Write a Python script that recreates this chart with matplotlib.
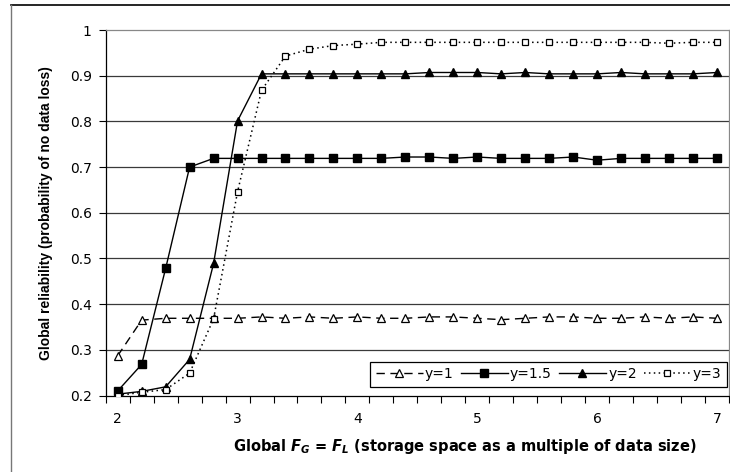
import matplotlib
matplotlib.use("Agg")
import matplotlib.pyplot as plt
from matplotlib.lines import Line2D
import numpy as np

plt.rcParams['font.family'] = ['DejaVu Sans']
plt.rcParams['mathtext.fontset'] = 'custom'
plt.rcParams['mathtext.it'] = 'DejaVu Sans:italic:bold'
plt.rcParams['mathtext.rm'] = 'DejaVu Sans:bold'

# data
fg = [2.0, 2.2, 2.4, 2.6, 2.8, 3.0, 3.2, 3.4, 3.6, 3.8, 4.0, 4.2, 4.4, 4.6, 4.8,
      5.0, 5.2, 5.4, 5.6, 5.8, 6.0, 6.2, 6.4, 6.6, 6.8, 7.0]
y_1 = [0.287, 0.365, 0.369, 0.369, 0.369, 0.369, 0.372, 0.369, 0.372, 0.369, 0.372,
       0.369, 0.369, 0.372, 0.372, 0.369, 0.366, 0.369, 0.372, 0.372, 0.369, 0.369,
       0.372, 0.369, 0.372, 0.369]
y_15 = [0.210, 0.268, 0.478, 0.700, 0.719, 0.719, 0.719, 0.719, 0.719, 0.719, 0.719,
        0.719, 0.722, 0.722, 0.719, 0.722, 0.719, 0.719, 0.719, 0.722, 0.715, 0.719,
        0.719, 0.719, 0.719, 0.719]
y_2 = [0.203, 0.209, 0.219, 0.279, 0.489, 0.801, 0.904, 0.904, 0.904, 0.904, 0.904,
       0.904, 0.904, 0.907, 0.907, 0.907, 0.904, 0.907, 0.904, 0.904, 0.904, 0.907,
       0.904, 0.904, 0.904, 0.907]
y_3 = [0.200, 0.207, 0.213, 0.249, 0.368, 0.646, 0.868, 0.943, 0.958, 0.966, 0.969,
       0.973, 0.973, 0.973, 0.973, 0.973, 0.973, 0.973, 0.973, 0.973, 0.973, 0.973,
       0.973, 0.971, 0.973, 0.973]
labels = ['y=1', 'y=1.5', 'y=2', 'y=3']
xtick_labels = [2, 3, 4, 5, 6, 7]
ytick_vals = [0.2, 0.3, 0.4, 0.5, 0.6, 0.7, 0.8, 0.9, 1.0]

fig = plt.figure(figsize=(7.3, 4.72), dpi=100)
ax = fig.add_axes([105.7/730, 1 - 395.5/472, (729 - 105.7)/730, (395.5 - 30)/472])

for v in ytick_vals[1:-1]:
    ax.axhline(v, color='#3a3a3a', lw=0.9, zorder=1)

lw = 1.0
ax.plot(fg, y_1, color='black', lw=lw, ls=(0, (6, 4)), marker='^', ms=6,
        mfc='white', mec='black', mew=0.9, label=labels[0], zorder=3)
ax.plot(fg, y_15, color='black', lw=lw, ls='-', marker='s', ms=5.5,
        mfc='black', mec='black', label=labels[1], zorder=3)
ax.plot(fg, y_2, color='black', lw=lw, ls='-', marker='^', ms=6,
        mfc='black', mec='black', label=labels[2], zorder=3)
ax.plot(fg, y_3, color='black', lw=1.1, ls=(0, (1, 2.2)), marker='s', ms=5,
        mfc='white', mec='black', mew=0.9, label=labels[3], zorder=4)

ax.set_xlim(1.9, 7.1)
ax.set_ylim(0.2, 1.0)

# category-style x axis: tick marks between categories, labels at centres
ax.set_xticks(np.arange(1.9, 7.11, 0.2))
ax.set_xticklabels([])
ax.set_xticks(xtick_labels, minor=True)
ax.set_xticklabels([str(v) for v in xtick_labels], minor=True)
ax.tick_params(axis='x', which='major', direction='out', length=5, width=0.8, color='black')
ax.tick_params(axis='x', which='minor', length=0, pad=12, labelsize=10)

ax.set_yticks(ytick_vals)
ax.set_yticklabels(['0.2', '0.3', '0.4', '0.5', '0.6', '0.7', '0.8', '0.9', '1'])
ax.tick_params(axis='y', direction='out', length=5, width=0.8, labelsize=10, pad=5)

for s in ['top', 'right']:
    ax.spines[s].set_color('#888888')
    ax.spines[s].set_linestyle((0, (1, 1)))
    ax.spines[s].set_linewidth(0.9)
for s in ['left', 'bottom']:
    ax.spines[s].set_color('black')
    ax.spines[s].set_linewidth(0.9)

ax.set_ylabel('Global reliability (probability of no data loss)', fontsize=10,
              fontweight='bold', family='Liberation Sans')
ax.yaxis.set_label_coords((53 - 105.7) / 623.3, 0.5)
ax.set_xlabel(r'Global $F_G$ = $F_L$ (storage space as a multiple of data size)',
              fontsize=10.5, fontweight='bold', va='center')
ax.xaxis.set_label_coords((465 - 105.7) / 623.3, -(447 - 395.5) / 365.5)

leg = ax.legend(loc='lower right', ncol=4, fontsize=10, frameon=True, fancybox=False,
                edgecolor='black', framealpha=1, handlelength=3.4, handletextpad=0.15,
                columnspacing=0.5, borderpad=0.4, bbox_to_anchor=(0.997, 0.024),
                borderaxespad=0)
leg.get_frame().set_linewidth(0.9)

# outer frame
fig.add_artist(Line2D([11/730, 1], [1 - 5/472, 1 - 5/472], transform=fig.transFigure,
                      color='black', lw=1.2))
fig.add_artist(Line2D([11/730, 11/730], [0, 1 - 5/472], transform=fig.transFigure,
                      color='#777777', lw=1.0))

fig.savefig('out.png', dpi=100)
